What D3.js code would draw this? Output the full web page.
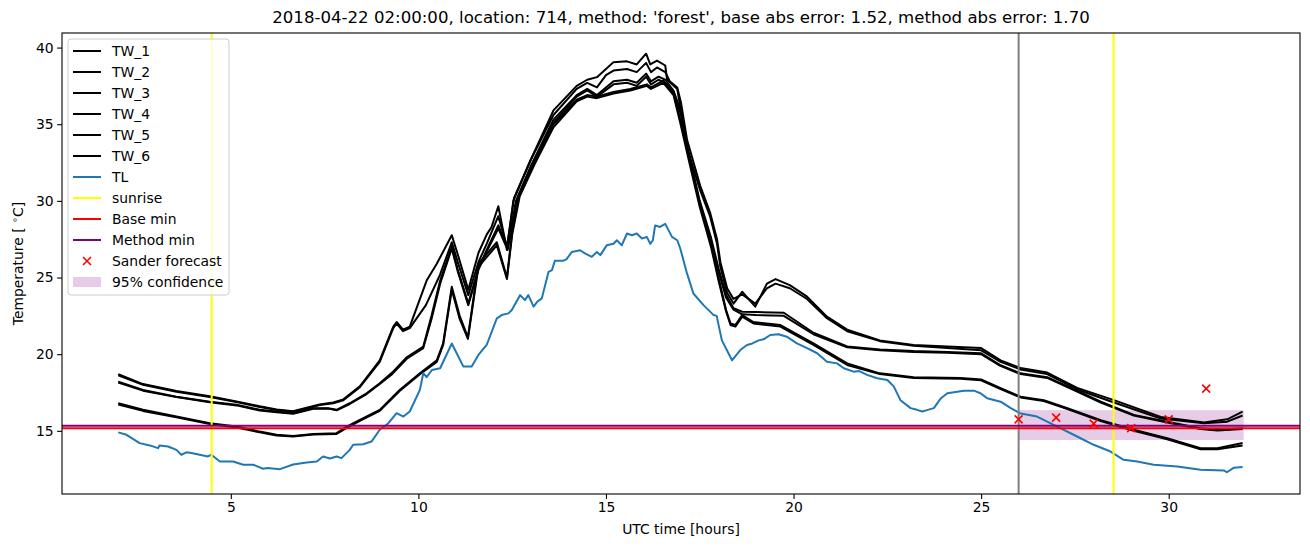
<!DOCTYPE html>
<html>
<head>
<meta charset="utf-8">
<script src="https://cdn.jsdelivr.net/npm/d3@7"></script>
<style>
  body { margin: 0; background: #fff; }
  text { font-family: "DejaVu Sans", sans-serif; }
</style>
</head>
<body>
<div id="chart"></div>
<script>
// [hour, temperature] pairs
const tw1 = [[2.0,18.7],[2.66,18.05],[3.55,17.6],[4.44,17.25],[5.15,16.92],[5.77,16.6],[6.22,16.4],[6.66,16.28],[7.02,16.5],[7.37,16.72],[7.73,16.85],[8.0,17.05],[8.44,17.9],[8.97,19.6],[9.33,21.8],[9.42,22.1],[9.59,21.6],[9.77,21.8],[10.22,24.8],[10.49,25.9],[10.89,27.76],[11.05,26.5],[11.33,24.2],[11.6,26.6],[11.82,27.8],[11.95,28.3],[12.13,29.65],[12.36,26.8],[12.53,30.0],[12.98,32.6],[13.6,35.9],[14.22,37.5],[14.5,37.9],[14.76,38.07],[15.0,38.6],[15.2,39.05],[15.56,39.1],[15.82,38.9],[16.07,39.6],[16.18,38.9],[16.36,39.15],[16.58,38.83],[16.63,37.9],[16.9,37.3],[16.98,36.1],[17.16,33.5],[17.51,30.7],[17.78,28.95],[17.96,27.2],[18.05,25.7],[18.23,24.0],[18.4,23.3],[18.63,24.07],[18.98,23.1],[19.29,24.6],[19.52,24.9],[19.9,24.5],[20.36,23.75],[20.89,22.45],[21.43,21.6],[22.3,20.9],[23.2,20.6],[24.1,20.5],[25.0,20.4],[25.52,19.6],[26.05,19.1],[26.76,18.8],[27.56,17.8],[28.54,17.0],[29.79,15.9],[30.94,15.55],[31.56,15.75],[31.97,16.26]];
const tw2 = [[2.0,18.62],[2.66,18.0],[3.55,17.55],[4.44,17.2],[5.15,16.88],[5.77,16.55],[6.22,16.36],[6.66,16.25],[7.02,16.45],[7.37,16.68],[7.73,16.8],[8.0,17.0],[8.44,17.85],[8.97,19.5],[9.33,21.7],[9.42,22.0],[9.59,21.5],[9.77,21.7],[10.2,23.2],[10.58,25.2],[10.89,27.3],[11.05,26.0],[11.33,23.85],[11.6,26.0],[11.82,27.2],[12.13,29.0],[12.36,27.0],[12.55,30.2],[13.0,32.7],[13.6,35.6],[14.22,37.3],[14.5,37.7],[14.76,37.4],[15.0,38.2],[15.2,38.5],[15.56,38.6],[15.82,38.4],[16.07,39.0],[16.2,38.4],[16.36,38.7],[16.58,38.4],[16.7,37.8],[16.9,37.4],[17.0,36.4],[17.16,34.0],[17.51,31.0],[17.78,29.2],[17.96,27.5],[18.05,26.0],[18.23,24.3],[18.4,23.6],[18.63,23.9],[18.98,23.3],[19.29,24.3],[19.52,24.6],[19.9,24.3],[20.36,23.6],[20.89,22.35],[21.43,21.5],[22.3,20.85],[23.2,20.55],[24.1,20.4],[25.0,20.25],[25.52,19.5],[26.05,19.0],[26.76,18.7],[27.56,17.7],[28.54,16.85],[29.79,15.8],[30.94,15.5],[31.56,15.6],[31.97,16.0]];
const tw3 = [[2.0,18.2],[2.66,17.67],[3.55,17.23],[4.44,16.9],[5.15,16.7],[5.77,16.37],[6.22,16.26],[6.66,16.15],[7.2,16.48],[7.6,16.48],[7.82,16.37],[8.17,16.8],[8.62,17.45],[8.97,18.1],[9.3,18.8],[9.69,19.8],[10.13,20.5],[10.35,22.5],[10.58,24.8],[10.89,27.0],[11.05,25.5],[11.33,23.3],[11.6,25.6],[11.82,26.8],[12.13,28.4],[12.38,26.9],[12.6,30.0],[13.0,32.3],[13.6,35.3],[14.22,36.9],[14.5,37.3],[14.76,36.9],[15.2,37.8],[15.56,37.9],[15.82,37.7],[16.07,38.3],[16.2,37.8],[16.4,38.1],[16.58,37.9],[16.8,37.2],[17.0,35.8],[17.2,33.2],[17.5,30.0],[17.8,27.6],[18.0,25.6],[18.2,23.9],[18.4,23.0],[18.63,22.77],[19.0,22.75],[19.74,22.7],[20.53,21.4],[21.43,20.5],[22.3,20.3],[23.2,20.2],[24.1,20.15],[25.0,20.06],[25.5,19.3],[26.05,18.75],[26.76,18.5],[27.3,17.9],[28.19,16.9],[29.07,16.04],[29.96,15.6],[30.85,15.17],[31.3,15.06],[31.97,15.17]];
const tw4 = [[2.0,18.15],[2.66,17.62],[3.55,17.2],[4.44,16.86],[5.15,16.66],[5.77,16.33],[6.22,16.22],[6.66,16.12],[7.2,16.44],[7.6,16.45],[7.82,16.34],[8.17,16.75],[8.62,17.4],[8.97,18.05],[9.3,18.7],[9.69,19.7],[10.13,20.4],[10.35,22.3],[10.58,24.6],[10.89,26.9],[11.05,25.4],[11.33,23.2],[11.6,25.5],[11.82,26.7],[12.13,28.2],[12.38,26.8],[12.6,29.8],[13.0,32.1],[13.6,35.1],[14.22,36.8],[14.5,37.2],[14.76,36.8],[15.2,37.6],[15.56,37.7],[15.82,37.5],[16.07,38.1],[16.2,37.6],[16.4,37.9],[16.58,37.7],[16.8,37.1],[17.0,35.6],[17.2,33.0],[17.5,29.8],[17.8,27.4],[18.0,25.4],[18.2,23.7],[18.4,22.9],[18.63,22.6],[19.0,22.55],[19.74,22.5],[20.53,21.3],[21.43,20.45],[22.3,20.25],[23.2,20.15],[24.1,20.1],[25.0,20.0],[25.5,19.25],[26.05,18.7],[26.76,18.45],[27.3,17.85],[28.19,16.85],[29.07,16.0],[29.96,15.55],[30.85,15.12],[31.3,15.02],[31.97,15.12]];
const tw5 = [[2.0,16.8],[2.66,16.37],[3.55,15.93],[4.44,15.5],[5.15,15.28],[5.77,14.95],[6.22,14.74],[6.66,14.67],[7.2,14.8],[7.82,14.85],[8.09,15.28],[8.44,15.72],[8.97,16.37],[9.5,17.67],[10.04,18.76],[10.49,19.6],[10.66,20.7],[10.89,24.4],[11.1,22.5],[11.32,21.1],[11.6,25.9],[12.09,27.3],[12.36,25.0],[12.5,28.0],[12.7,30.5],[13.1,32.6],[13.6,35.0],[14.22,36.6],[14.5,36.9],[14.76,36.8],[15.2,37.1],[15.65,37.3],[16.09,37.6],[16.2,37.4],[16.53,37.85],[16.8,37.0],[16.98,35.3],[17.25,32.4],[17.5,29.8],[17.8,27.2],[18.0,25.0],[18.2,22.9],[18.32,22.0],[18.45,21.9],[18.63,22.55],[18.93,22.1],[19.65,21.9],[20.53,20.7],[21.43,19.4],[22.3,18.75],[23.2,18.5],[24.45,18.45],[25.0,18.35],[25.52,17.78],[26.05,17.23],[26.67,17.0],[27.3,16.48],[28.19,15.7],[29.07,15.07],[29.96,14.52],[30.85,13.87],[31.3,13.87],[31.97,14.2]];
const tw6 = [[2.0,16.72],[2.66,16.3],[3.55,15.88],[4.44,15.45],[5.15,15.22],[5.77,14.9],[6.22,14.7],[6.66,14.63],[7.2,14.76],[7.82,14.8],[8.09,15.2],[8.44,15.65],[8.97,16.3],[9.5,17.6],[10.04,18.7],[10.49,19.5],[10.66,20.6],[10.89,24.2],[11.1,22.3],[11.32,21.0],[11.6,25.7],[12.09,27.1],[12.36,24.9],[12.5,27.8],[12.7,30.3],[13.1,32.4],[13.6,34.8],[14.22,36.5],[14.5,36.8],[14.76,36.7],[15.2,37.0],[15.65,37.2],[16.09,37.5],[16.2,37.3],[16.53,37.7],[16.8,36.9],[16.98,35.1],[17.25,32.2],[17.5,29.6],[17.8,27.0],[18.0,24.8],[18.2,22.8],[18.32,21.9],[18.45,21.8],[18.63,22.45],[18.93,22.0],[19.65,21.8],[20.53,20.6],[21.43,19.3],[22.3,18.7],[23.2,18.45],[24.45,18.4],[25.0,18.3],[25.52,17.72],[26.05,17.18],[26.67,16.95],[27.3,16.42],[28.19,15.64],[29.07,15.0],[29.96,14.45],[30.85,13.8],[31.3,13.8],[31.97,14.05]];
const tl = [[2.0,14.9],[2.22,14.74],[2.57,14.2],[2.84,14.05],[3.06,13.87],[3.1,14.05],[3.33,13.98],[3.55,13.76],[3.68,13.44],[3.82,13.6],[3.95,13.55],[4.17,13.44],[4.39,13.33],[4.48,13.44],[4.71,13.0],[5.06,13.0],[5.33,12.79],[5.6,12.79],[5.86,12.53],[5.98,12.58],[6.31,12.5],[6.66,12.8],[7.02,12.94],[7.29,13.0],[7.46,13.33],[7.64,13.2],[7.82,13.33],[7.95,13.22],[8.17,13.76],[8.26,14.09],[8.53,14.13],[8.75,14.3],[8.97,15.07],[9.2,15.5],[9.42,16.15],[9.6,15.93],[9.77,16.26],[10.04,17.67],[10.13,18.76],[10.22,18.5],[10.36,18.97],[10.58,19.08],[10.89,20.7],[11.2,19.19],[11.42,19.19],[11.6,19.95],[11.82,20.6],[12.09,22.34],[12.22,22.55],[12.4,22.66],[12.49,22.88],[12.71,23.85],[12.84,23.53],[12.93,23.85],[13.07,23.1],[13.16,23.4],[13.29,23.64],[13.47,25.37],[13.56,25.48],[13.64,26.1],[13.87,26.1],[13.95,26.2],[14.09,26.67],[14.31,26.78],[14.44,26.57],[14.62,26.35],[14.76,26.67],[14.85,26.46],[15.02,27.1],[15.2,27.2],[15.29,27.43],[15.42,27.1],[15.56,27.87],[15.69,27.76],[15.82,27.87],[15.96,27.55],[16.09,27.65],[16.18,27.2],[16.25,27.43],[16.31,28.4],[16.44,28.3],[16.58,28.5],[16.76,27.65],[16.9,27.43],[16.98,26.9],[17.16,25.27],[17.33,23.96],[17.6,23.2],[17.87,22.55],[17.95,22.5],[18.09,20.9],[18.36,19.6],[18.58,20.27],[18.76,20.6],[18.9,20.7],[19.07,20.9],[19.2,20.97],[19.38,21.25],[19.6,21.3],[19.82,21.14],[20.09,20.7],[20.36,20.4],[20.63,20.06],[20.89,19.5],[21.16,19.4],[21.34,19.08],[21.6,18.86],[21.75,18.9],[21.96,18.65],[22.23,18.43],[22.5,18.32],[22.67,17.9],[22.85,17.0],[23.12,16.48],[23.29,16.37],[23.43,16.26],[23.58,16.37],[23.74,16.48],[23.93,17.13],[24.1,17.45],[24.54,17.62],[24.81,17.62],[24.98,17.45],[25.16,17.13],[25.52,16.9],[25.79,16.48],[26.03,16.15],[26.49,15.93],[27.03,15.28],[27.56,14.63],[28.0,14.09],[28.45,13.65],[28.8,13.11],[29.16,13.0],[29.6,12.79],[30.23,12.68],[30.85,12.46],[31.47,12.42],[31.55,12.3],[31.74,12.6],[31.97,12.64]];

const sunrise = [4.49, 28.53];
const forecastTime = 26.0;
const baseMin = 15.17;
const methodMin = 15.33;
const sanderHours = [26, 27, 28, 29, 30, 31];
const sanderValues = [15.75, 15.86, 15.47, 15.18, 15.75, 17.75];
const confidence = { from: 26.0, to: 32.0, low: 14.4, high: 16.35 };

const xTicks = [5, 10, 15, 20, 25, 30];
const yTicks = [15, 20, 25, 30, 35, 40];
const title = "2018-04-22 02:00:00, location: 714, method: 'forest', base abs error: 1.52, method abs error: 1.70";

const width = 1310, height = 547;
const margin = { left: 62, right: 10, top: 33, bottom: 53 };

const svg = d3.select("#chart").append("svg")
    .attr("width", width)
    .attr("height", height);

svg.append("rect").attr("width", width).attr("height", height).attr("fill", "#fff");

const x = d3.scaleLinear().domain([0.5, 33.5]).range([margin.left, width - margin.right]);
const y = d3.scaleLinear().domain([10.88, 40.95]).range([height - margin.bottom, margin.top]);

const plot = svg.append("g");
plot.append("clipPath").attr("id", "clip")
    .append("rect")
    .attr("x", x.range()[0]).attr("y", y.range()[1])
    .attr("width", x.range()[1] - x.range()[0])
    .attr("height", y.range()[0] - y.range()[1]);
const inner = plot.append("g").attr("clip-path", "url(#clip)");

// confidence band
inner.append("rect")
    .attr("x", x(confidence.from))
    .attr("y", y(confidence.high))
    .attr("width", x(confidence.to) - x(confidence.from))
    .attr("height", y(confidence.low) - y(confidence.high))
    .attr("fill", "purple")
    .attr("fill-opacity", 0.2);

const line = d3.line().x(d => x(d[0])).y(d => y(d[1]));

[tw1, tw2, tw3, tw4, tw5, tw6].forEach(series => {
    inner.append("path")
        .datum(series)
        .attr("d", line)
        .attr("fill", "none")
        .attr("stroke", "#000")
        .attr("stroke-width", 2)
        .attr("stroke-linejoin", "round");
});

inner.append("path")
    .datum(tl)
    .attr("d", line)
    .attr("fill", "none")
    .attr("stroke", "#1f77b4")
    .attr("stroke-width", 2)
    .attr("stroke-linejoin", "round");

// forecast time marker
inner.append("line")
    .attr("x1", x(forecastTime)).attr("x2", x(forecastTime))
    .attr("y1", y.range()[0]).attr("y2", y.range()[1])
    .attr("stroke", "grey").attr("stroke-width", 2);

inner.selectAll(".sunrise")
    .data(sunrise)
    .enter()
    .append("line")
    .attr("class", "sunrise")
    .attr("x1", d => x(d)).attr("x2", d => x(d))
    .attr("y1", y.range()[0]).attr("y2", y.range()[1])
    .attr("stroke", "yellow").attr("stroke-width", 2);

[[baseMin, "red"], [methodMin, "purple"]].forEach(([v, c]) => {
    inner.append("line")
        .attr("x1", x.range()[0]).attr("x2", x.range()[1])
        .attr("y1", y(v)).attr("y2", y(v))
        .attr("stroke", c).attr("stroke-width", 2);
});

const cross = (g, cx, cy, r) => {
    g.append("path")
        .attr("d", `M${cx - r},${cy - r}L${cx + r},${cy + r}M${cx - r},${cy + r}L${cx + r},${cy - r}`)
        .attr("stroke", "red")
        .attr("stroke-width", 1.6)
        .attr("fill", "none");
};
sanderHours.forEach((h, i) => cross(inner, x(h), y(sanderValues[i]), 4));

// axes
const xAxis = svg.append("g")
    .attr("transform", `translate(0,${y.range()[0]})`)
    .call(d3.axisBottom(x).tickValues(xTicks).tickSize(4.9).tickPadding(3.5).tickSizeOuter(0));
const yAxis = svg.append("g")
    .attr("transform", `translate(${x.range()[0]},0)`)
    .call(d3.axisLeft(y).tickValues(yTicks).tickSize(4.9).tickPadding(3.5).tickSizeOuter(0));
[xAxis, yAxis].forEach(a => {
    a.select(".domain").remove();
    a.selectAll("line").attr("stroke", "#000").attr("stroke-width", 1.1);
    a.selectAll("text").attr("font-size", 13.9).attr("fill", "#000")
        .attr("font-family", "DejaVu Sans");
});

// frame
svg.append("rect")
    .attr("x", x.range()[0]).attr("y", y.range()[1])
    .attr("width", x.range()[1] - x.range()[0])
    .attr("height", y.range()[0] - y.range()[1])
    .attr("fill", "none").attr("stroke", "#000").attr("stroke-width", 1.1);

// labels
svg.append("text")
    .attr("x", (x.range()[0] + x.range()[1]) / 2).attr("y", 23)
    .attr("text-anchor", "middle").attr("font-size", 16.6)
    .text(title);

svg.append("text")
    .attr("x", (x.range()[0] + x.range()[1]) / 2).attr("y", 534)
    .attr("text-anchor", "middle").attr("font-size", 13.9)
    .text("UTC time [hours]");

const yl = svg.append("text")
    .attr("transform", `translate(23,${(y.range()[0] + y.range()[1]) / 2}) rotate(-90)`)
    .attr("text-anchor", "middle").attr("font-size", 13.9);
yl.append("tspan").text("Temperature [ ");
yl.append("tspan").attr("dy", -5).attr("font-size", 9.7).text("\u2218");
yl.append("tspan").attr("dy", 5).text("C]");

// legend
const legendItems = [
    { label: "TW_1", kind: "line", color: "#000" },
    { label: "TW_2", kind: "line", color: "#000" },
    { label: "TW_3", kind: "line", color: "#000" },
    { label: "TW_4", kind: "line", color: "#000" },
    { label: "TW_5", kind: "line", color: "#000" },
    { label: "TW_6", kind: "line", color: "#000" },
    { label: "TL", kind: "line", color: "#1f77b4" },
    { label: "sunrise", kind: "line", color: "yellow" },
    { label: "Base min", kind: "line", color: "red" },
    { label: "Method min", kind: "line", color: "purple" },
    { label: "Sander forecast", kind: "cross", color: "red" },
    { label: "95% confidence", kind: "patch", color: "purple" }
];
const legend = svg.append("g").attr("transform", "translate(68,39)");
legend.append("rect")
    .attr("width", 161).attr("height", 256)
    .attr("rx", 3)
    .attr("fill", "#fff").attr("fill-opacity", 0.8)
    .attr("stroke", "#ccc").attr("stroke-width", 1);
legendItems.forEach((d, i) => {
    const cy = 12 + i * 21;
    const g = legend.append("g");
    if (d.kind === "line") {
        g.append("line").attr("x1", 5).attr("x2", 33).attr("y1", cy).attr("y2", cy)
            .attr("stroke", d.color).attr("stroke-width", 2);
    } else if (d.kind === "cross") {
        cross(g, 19, cy, 4);
    } else {
        g.append("rect").attr("x", 5).attr("y", cy - 5).attr("width", 28).attr("height", 10)
            .attr("fill", d.color).attr("fill-opacity", 0.2);
    }
    g.append("text").attr("x", 44).attr("y", cy + 5).attr("font-size", 13.9).text(d.label);
});
</script>
</body>
</html>
